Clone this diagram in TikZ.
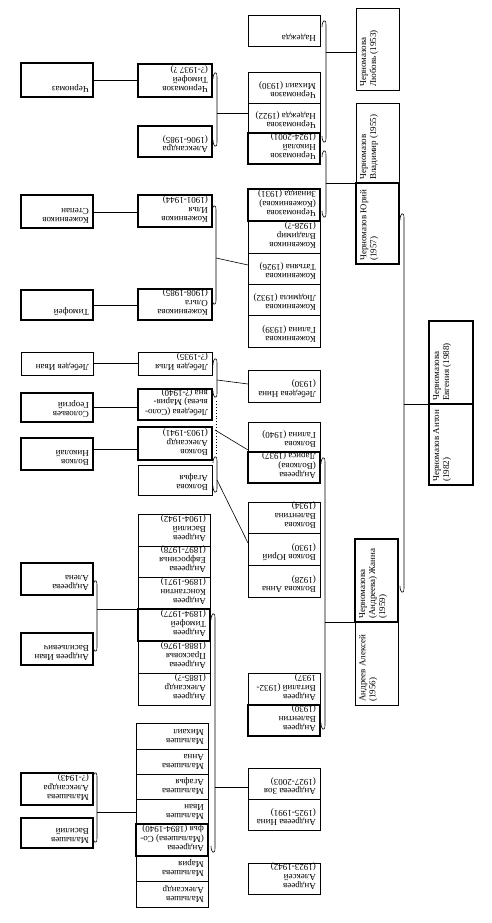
\documentclass[tikz,border=0pt]{standalone}
\usepackage{fontspec}
\setmainfont{Liberation Serif}
\tikzset{
 thinbox/.style={draw, line width=0.6pt, inner sep=0pt, outer sep=0pt, anchor=north west},
 thickbox/.style={draw, line width=2pt, inner sep=0pt, outer sep=0pt, anchor=north west},
 tup/.style={rotate=180, anchor=north west, align=left, inner sep=0pt, font=\fontsize{9}{9.5}\selectfont},
 tside/.style={rotate=90, anchor=north west, align=left, inner sep=0pt, font=\fontsize{9}{10}\selectfont},
 conn/.style={line width=0.6pt},
 dotconn/.style={line width=0.9pt, dotted},
}
\newcommand\upbox[7]{%
 \node[#2, minimum width={#5-#3}, minimum height={#6-#4}] (#1) at (#3,#4) {};
 \node[tup] (#1t) at ([shift={(-4,-4)}]#1.south east) {#7};}
\newcommand\sidebox[7]{%
 \node[#2, minimum width={#5-#3}, minimum height={#6-#4}] (#1) at (#3,#4) {};
 \node[tside] (#1t) at ([shift={(4,-3)}]#1.south west) {#7};}
\newcommand\brkt[3]{%
 \draw[conn] ({#1-4},{#2+7}) .. controls ({#1-4},{#2}) and ({#1},{#2-2}) .. ({#1},{#2+5})
   -- ({#1},{#3-5}) .. controls ({#1},{#3+2}) and ({#1-4},{#3}) .. ({#1-4},{#3-7});}
\begin{document}
\begin{tikzpicture}[x=1pt,y=-1pt]
\fill[white] (0,0) rectangle (492,923);
\useasboundingbox (0,0) rectangle (492,923);

% ---------- column A ----------
\sidebox{evg}{thickbox}{429}{321}{473}{404}{Черномазова\\Евгения (1988)}
\sidebox{anton}{thickbox}{429}{404}{473}{485}{Черномазов Антон\\(1982)}

% ---------- column B ----------
\sidebox{lub}{thinbox}{356}{8}{399}{90}{Черномазова\\Любовь (1953)}
\sidebox{vlad}{thinbox}{356}{103}{399}{183}{Черномазов\\Владимир (1955)}
\sidebox{yuri}{thickbox}{356}{183}{399}{264}{Черномазов Юрий\\(1957)}
\sidebox{alexB}{thinbox}{355}{622}{398}{705}{Андреев Алексей\\(1956)}
\sidebox{zhanna}{thickbox}{355}{539}{398}{622}{Черномазова\\(Андреева) Жанна\\(1959)}

% ---------- column C ----------
\upbox{nadC}{thinbox}{248}{15}{320}{46}{Надежда}
\upbox{mikhC}{thinbox}{248}{72}{320}{103}{Черномазов\\Михаил (1930)}
\upbox{nad22}{thinbox}{248}{103}{320}{133}{Черномазова\\Надежда (1922)}
\upbox{nik}{thickbox}{248}{133}{320}{164}{Черномазов\\Николай\\(1924-2001)}
\upbox{vladK}{thinbox}{248}{221}{320}{253}{Кожевников\\Владимир\\(1928-?)}
\upbox{tat}{thinbox}{248}{253}{320}{284}{Кожевникова\\Татьяна (1926)}
\upbox{lud}{thinbox}{248}{284}{320}{315}{Кожевникова\\Людмила (1932)}
\upbox{galK}{thinbox}{248}{315}{320}{347}{Кожевникова\\Галина (1939)}
\upbox{zin}{thickbox}{248}{189}{320}{221}{Черномазова\\(Кожевникова)\\Зинаида (1931)}
\upbox{ninaL}{thinbox}{248}{370}{320}{402}{Лебедева Нина\\(1930)}
\upbox{galV}{thinbox}{248}{422}{320}{452}{Волкова\\Галина (1940)}
\upbox{val}{thinbox}{248}{502}{320}{533}{Волкова\\Валентина\\(1934)}
\upbox{yurV}{thinbox}{248}{533}{320}{565}{Волков Юрий\\(1930)}
\upbox{annV}{thinbox}{248}{565}{320}{597}{Волкова Анна\\(1928)}
\upbox{lar}{thickbox}{248}{452}{320}{483}{Андреева\\(Волкова)\\Лариса (1937)}
\upbox{vit}{thinbox}{248}{673}{320}{705}{Андреев\\Виталий (1932-\\1937)}
\upbox{valA}{thickbox}{248}{705}{320}{736}{Андреев\\Валентин\\(1930)}
\upbox{zoya}{thinbox}{248}{768}{320}{799}{Андреева Зоя\\(1927-2003)}
\upbox{ninaA}{thinbox}{248}{799}{320}{830}{Андреева Нина\\(1925-1991)}
\upbox{alexC}{thinbox}{248}{863}{320}{894}{Андреев\\Алексей\\(1923-1942)}

% ---------- column D ----------
\upbox{timD}{thickbox}{138}{64}{212}{97}{Черномазов\\Тимофей\\(?-1937 ?)}
\upbox{alexandra}{thickbox}{138}{126}{212}{157}{Александра\\(1906-1985)}
\upbox{ilya}{thickbox}{138}{195}{212}{227}{Кожевников\\Илья\\(1901-1944)}
\upbox{olga}{thickbox}{138}{289}{212}{320}{Кожевникова\\Ольга\\(1908-1985)}
\upbox{ilyaL}{thinbox}{138}{352}{212}{375}{Лебедев Илья\\(?-1935)}
\upbox{maria}{thickbox}{138}{389}{212}{420}{Лебедева (Соло-\\вьева) Мария-\\вна (?-1940)}
\upbox{alexV}{thickbox}{138}{427}{212}{460}{Волков\\Александр\\(1903-1941)}
\upbox{agafV}{thinbox}{138}{465}{212}{495}{Волкова\\Агафья}
\upbox{vasA}{thinbox}{138}{514}{210}{546}{Андреев\\Василий\\(1904-1942)}
\upbox{evf}{thinbox}{138}{546}{210}{577}{Андреева\\Евфросинья\\(1897-1978)}
\upbox{kon}{thinbox}{138}{577}{210}{609}{Андреев\\Константин\\(1896-1971)}
\upbox{pras}{thinbox}{138}{641}{210}{673}{Андреева\\Прасковья\\(1888-1976)}
\upbox{alexA}{thinbox}{138}{673}{210}{705}{Андреев\\Александр\\(1885-?)}
\upbox{timA}{thickbox}{138}{609}{210}{641}{Андреев\\Тимофей\\(1894-1977)}
\upbox{mikhM}{thinbox}{136}{723}{208}{749}{Малышев\\Михаил}
\upbox{annM}{thinbox}{136}{749}{208}{774}{Малышева\\Анна}
\upbox{agafM}{thinbox}{136}{774}{208}{799}{Малышева\\Агафья}
\upbox{ivanM}{thinbox}{136}{799}{208}{824}{Малышев\\Иван}
\upbox{mariaM}{thinbox}{136}{856}{208}{881}{Малышева\\Мария}
\upbox{alexM}{thinbox}{136}{881}{208}{907}{Малышев\\Александр}
\upbox{sofya}{thickbox}{136}{824}{208}{856}{Андреева\\(Малышева) Со-\\фья (1894-1940)}

% ---------- column E ----------
\upbox{chz}{thickbox}{21}{63}{93}{97}{Черномаз}
\upbox{stepan}{thickbox}{21}{195}{93}{228}{Кожевников\\Степан}
\upbox{timE}{thickbox}{21}{290}{93}{320}{Тимофей}
\upbox{ivanL}{thinbox}{21}{352}{93}{375}{Лебедев Иван}
\upbox{georg}{thickbox}{21}{393}{93}{422}{Соловьев\\Георгий}
\upbox{nikV}{thickbox}{21}{438}{93}{470}{Волков\\Николай}
\upbox{alena}{thickbox}{21}{563}{93}{595}{Андреева\\Алена}
\upbox{ivanA}{thickbox}{21}{633}{93}{665}{Андреев Иван\\Васильевич}
\upbox{alexandraM}{thickbox}{21}{773}{93}{805}{Малышева\\Александра\\(?-1943)}
\upbox{vasM}{thickbox}{21}{818}{93}{848}{Малышев\\Василий}

% ---------- connectors E-D ----------
\coordinate (e1) at (93,80);
\coordinate (e2) at (93,212);
\coordinate (e3) at (93,305);
\coordinate (e4) at (93,363);
\coordinate (e5) at (93,407);
\coordinate (e6) at (93,449);
\draw[conn] (e1 -| chz.east) -- (e1 -| timD.west);
\draw[conn] (e2 -| stepan.east) -- (e2 -| ilya.west);
\draw[conn] (e3 -| timE.east) -- (e3 -| olga.west);
\draw[conn] (e4 -| ivanL.east) -- (e4 -| ilyaL.west);
\draw[conn] (e5 -| georg.east) -- (e5 -| maria.west);
\draw[conn] (e6 -| nikV.east) -- (e6 -| alexV.west);
\brkt{97}{580}{652}
\coordinate (m1) at (97,609);
\draw[conn] (m1) -- (m1 -| timA.west);
\brkt{97}{772}{843}
\coordinate (m2) at (97,812);
\draw[conn] (m2) -- (m2 -| sofya.west);

% ---------- connectors D-C ----------
\brkt{217}{72}{147}
\coordinate (m3) at (217,113);
\draw[conn] (m3) -- (m3 -| nad22.west);
\brkt{216}{205}{305}
\coordinate (m4) at (216,258);
\coordinate (t4) at (248,265);
\draw[conn] (m4) -- (t4);
\brkt{217}{358}{398}
\coordinate (m5) at (217,380);
\coordinate (t5) at (248,384);
\draw[conn] (m5) -- (t5);
\draw[dotconn] (216,401) -- (216,455);
\coordinate (m6) at (215,430);
\coordinate (t6) at (248,450);
\draw[conn] (m6) -- (t6);
\brkt{217}{456}{493}
\coordinate (m7) at (217,480);
\coordinate (t7) at (248,543);
\draw[conn] (m7) -- (t7);
\brkt{215}{613}{853}
\coordinate (m8) at (215,787);
\draw[conn] (m8) -- (m8 -| zoya.west);

% ---------- connectors C-B ----------
\brkt{326}{20}{143}
\coordinate (m9) at (326,52);
\draw[conn] (m9) -- (m9 -| lub.west);
\brkt{326}{150}{218}
\coordinate (m10) at (326,183);
\draw[conn] (m10) -- (m10 -| yuri.west);
\brkt{325}{457}{730}
\coordinate (m11) at (325,622);
\draw[conn] (m11) -- (m11 -| zhanna.west);

% ---------- connectors B-A ----------
\brkt{404}{213}{593}
\coordinate (m12) at (404,404);
\draw[conn] (m12) -- (m12 -| evg.west);
\end{tikzpicture}
\end{document}
